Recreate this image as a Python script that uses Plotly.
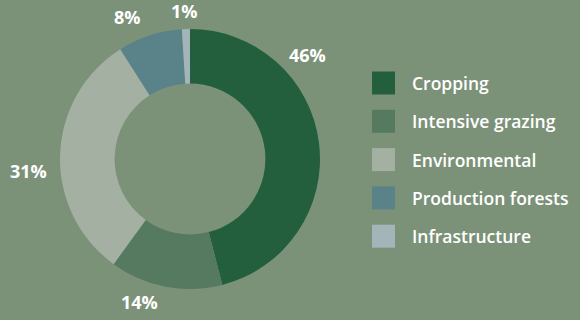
import plotly.graph_objects as go
import math

labels = ["Cropping", "Intensive grazing", "Environmental", "Production forests", "Infrastructure"]
values = [46, 14, 31, 8, 1]
colors = ["#245f3d", "#557a5f", "#a3b0a2", "#5a8389", "#a3b5b8"]

BG = "#7b9279"
W, H = 580, 320

# pie geometry (pixels)
cx, cy, R = 190, 159, 130
dom_x = [(cx - R) / W, (cx + R) / W]
dom_y = [1 - (cy + R) / H, 1 - (cy - R) / H]

fig = go.Figure(go.Pie(
    labels=labels, values=values, sort=False, direction="clockwise", rotation=0,
    hole=0.58, marker=dict(colors=colors, line=dict(width=0)),
    textinfo="none", hoverinfo="label+percent", showlegend=False,
    domain=dict(x=dom_x, y=dom_y),
))

# percentage labels placed radially outside the ring (radius, angle shift from slice middle)
label_r = [157, 152, 162, 155, 148]
angle_shift = [-34.2, 8.5, -6.0, -5.9, -0.5]
total = sum(values)
cum = 0
annotations = []
for v, lr, sh in zip(values, label_r, angle_shift):
    mid = (cum + v / 2) / total * 360 + sh
    cum += v
    a = math.radians(mid)
    px = cx + lr * math.sin(a)
    py = cy - lr * math.cos(a)
    annotations.append(dict(
        x=px / W, y=1 - py / H, xref="paper", yref="paper", showarrow=False,
        text=f"<b>{v}%</b>", font=dict(family="Open Sans", size=18, color="white"),
        xanchor="center", yanchor="middle",
    ))

# legend drawn as squares + text
shapes = []
lx, ly0, step, sz = 372, 83, 38.3, 23
for i, (lab, col) in enumerate(zip(labels, colors)):
    y = ly0 + i * step
    shapes.append(dict(type="rect", xref="paper", yref="paper",
                       x0=lx / W, x1=(lx + sz) / W,
                       y0=1 - (y + sz / 2) / H, y1=1 - (y - sz / 2) / H,
                       fillcolor=col, line=dict(width=0)))
    annotations.append(dict(
        x=410 / W, y=1 - y / H, xref="paper", yref="paper", showarrow=False,
        text=lab, font=dict(family="Open Sans", size=17.5, color="white", weight=600),
        xanchor="left", yanchor="middle",
    ))

fig.update_layout(
    width=W, height=H, margin=dict(l=0, r=0, t=0, b=0),
    paper_bgcolor=BG, plot_bgcolor=BG,
    annotations=annotations, shapes=shapes,
)

fig.write_html("out.html")
